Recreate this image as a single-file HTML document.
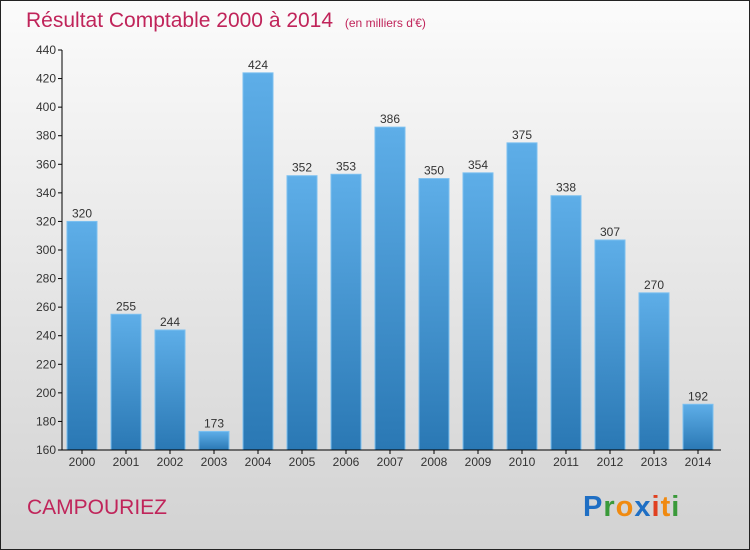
<!DOCTYPE html>
<html><head><meta charset="utf-8"><style>
body{margin:0;width:750px;height:550px;overflow:hidden;font-family:"Liberation Sans",sans-serif}
svg{display:block}
</style></head><body>
<svg id="c" width="750" height="550">
<defs>
<linearGradient id="bg" x1="0" y1="0" x2="0" y2="1"><stop offset="0" stop-color="#fbfbfb"/><stop offset="1" stop-color="#d2d2d2"/></linearGradient>
<linearGradient id="bar" x1="0" y1="0" x2="0" y2="1"><stop offset="0" stop-color="#5eaee8"/><stop offset="1" stop-color="#2a78b4"/></linearGradient>
</defs>
<rect x="0.5" y="0.5" width="749" height="549" fill="url(#bg)" stroke="#222"/>
<text x="26" y="27" font-size="21" fill="#c0245a">Résultat Comptable 2000 à 2014 <tspan font-size="12" dx="6">(en milliers d'€)</tspan></text>
<text x="27" y="514" font-size="21" fill="#c0245a">CAMPOURIEZ</text>
<text x="583" y="516" font-size="29" font-weight="bold" letter-spacing="1"><tspan fill="#1f6fc4">P</tspan><tspan fill="#3a9a3a">r</tspan><tspan fill="#f08a10">o</tspan><tspan fill="#1f6fc4">x</tspan><tspan fill="#e04020">i</tspan><tspan fill="#f08a10">t</tspan><tspan fill="#3a9a3a">i</tspan></text>
<g id="plot"></g>
</svg>
<script>
const years=["2000","2001","2002","2003","2004","2005","2006","2007","2008","2009","2010","2011","2012","2013","2014"];
const values=[320,255,244,173,424,352,353,386,350,354,375,338,307,270,192];
const ticks=[160,180,200,220,240,260,280,300,320,340,360,380,400,420,440];
const NS="http://www.w3.org/2000/svg",g=document.getElementById('plot');
const y=v=>450-(v-160)*400/280, x=i=>82+i*44;
function el(t,a,txt){const e=document.createElementNS(NS,t);for(const k in a)e.setAttribute(k,a[k]);if(txt!=null)e.textContent=txt;g.appendChild(e);return e;}
ticks.forEach(t=>{
 const l=el('line',{x1:58,x2:62,y1:y(t),y2:y(t),stroke:'#000'});
 
 
 const s=el('text',{x:56,y:y(t)+4,'font-size':12,'text-anchor':'end',fill:'#333'},t);
 
 
});
values.forEach((v,i)=>{
 const r=el('rect',{x:x(i)-15,y:y(v),width:30,height:450-y(v),fill:'url(#bar)',stroke:'#7cc0f0','stroke-width':1});
 
 
 const t=el('text',{x:x(i),y:y(v)-4,'font-size':12,'text-anchor':'middle',fill:'#333'},v);
 
 
 const k=el('line',{x1:x(i),x2:x(i),y1:450,y2:454,stroke:'#000'});
 
 
 const lb=el('text',{x:x(i),y:466,'font-size':12,'text-anchor':'middle',fill:'#333'},years[i]);
 
 
});
const ya=el('line',{x1:62,x2:62,y1:50,y2:450,stroke:'#000'});


const xa=el('line',{x1:62,x2:721,y1:450,y2:450,stroke:'#000'});


</script>
</body></html>
